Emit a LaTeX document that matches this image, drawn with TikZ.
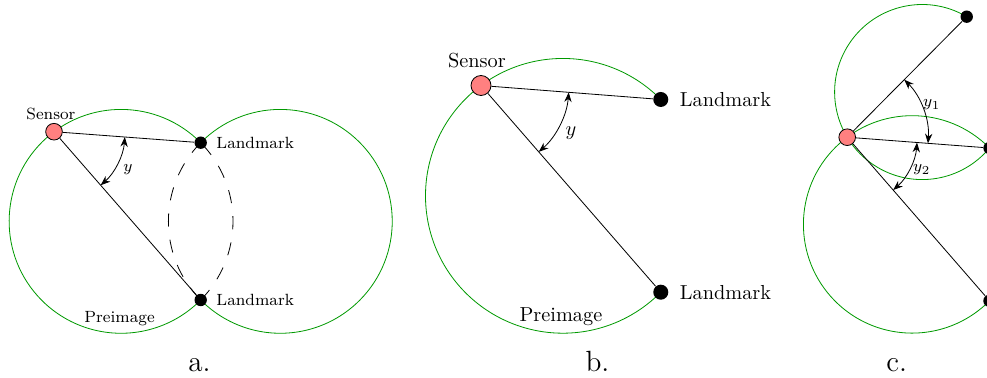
\documentclass[tikz,border=0pt]{standalone}
\usepackage{amsmath,amssymb}
\usepackage{tikz}
\usetikzlibrary{arrows.meta,positioning,backgrounds}

\begin{document}
\begin{tikzpicture}[>=Stealth,
  sensor/.style={circle, draw, fill=red!50, inner sep=0pt, minimum size=#1},
  sensor/.default=9.85pt,
  landmark/.style={circle, fill=black, inner sep=0pt, minimum size=#1},
  landmark/.default=7.4pt,
  preimage/.style={green!60!black},
  hidden/.style={dash pattern=on 6.5pt off 6.5pt},
  panel/.style={anchor=base, font=\Large}]
  \clip (0,0) rectangle (17.085,6.543);

  % a.
  \begin{scope}[font=\footnotesize]
    \node[sensor=8.2pt] (aS) at (0.935,4.263) {};
    \node[landmark=6.1pt] (aL1) at (3.474,4.073) {};
    \node[landmark=6.1pt] (aL2) at (3.474,1.350) {};
    \begin{scope}[on background layer]
      \draw[preimage] (aL1.center) arc[start angle=44.65, end angle=315.35, radius=1.9375];
      \draw[hidden] (aL2.center) arc[start angle=-44.65, end angle=44.65, radius=1.9375];
      \draw[preimage] (aL1.center) arc[start angle=135.35, end angle=-135.35, radius=1.9375];
      \draw[hidden] (aL1.center) arc[start angle=135.35, end angle=224.65, radius=1.9375];
    \end{scope}
    \draw (aS) -- (aL1);
    \draw (aS) -- (aL2);
    \draw[<->] (aS.center) ++(-4.28:1.229) arc[start angle=-4.28, end angle=-48.93, radius=1.229];
    \node (aY) at (2.216,3.600) {$y$};
    \node[above=-2pt of aS, xshift=-1.5pt] (aSensor) {Sensor};
    \node[right=1pt of aL1] (aLand1) {Landmark};
    \node[right=1pt of aL2] (aLand2) {Landmark};
    \node[above] (aPre) at (2.07,0.774) {Preimage};
  \end{scope}
  \node[panel] (aLabel) at (3.453,0.113) {a.};

  % b.
  \node[sensor] (bS) at (8.326,5.063) {};
  \node[landmark] (bL1) at (11.438,4.821) {};
  \node[landmark] (bL2) at (11.438,1.485) {};
  \begin{scope}[on background layer]
    \draw[preimage] (bL1.center) arc[start angle=44.54, end angle=315.46, radius=2.378];
  \end{scope}
  \draw (bS) -- (bL1);
  \draw (bS) -- (bL2);
  \draw[<->] (bS.center) ++(-4.45:1.523) arc[start angle=-4.45, end angle=-48.98, radius=1.523];
  \node (bY) at (9.884,4.241) {$y$};
  \node[above=0pt of bS, xshift=-2pt] (bSensor) {Sensor};
  \node[right=2pt of bL1] (bLand1) {Landmark};
  \node[right=2pt of bL2] (bLand2) {Landmark};
  \node[above] (bPre) at (9.71,0.775) {Preimage};
  \node[panel] (bLabel) at (10.343,0.113) {b.};

  % c.
  \begin{scope}[font=\footnotesize]
    \node[sensor=8.2pt] (cS) at (14.665,4.168) {};
    \node[landmark=6.1pt] (cL1) at (16.734,6.254) {};
    \node[landmark=6.1pt] (cL2) at (17.128,3.981) {};
    \node[landmark=6.1pt] (cL3) at (17.128,1.336) {};
    \begin{scope}[on background layer]
      \draw[preimage] (cL1.center) arc[start angle=59.4, end angle=320.24, radius=1.5154];
      \draw[preimage] (cL2.center) arc[start angle=44.64, end angle=315.36, radius=1.882];
    \end{scope}
    \draw (cS) -- (cL1);
    \draw (cS) -- (cL2);
    \draw (cS) -- (cL3);
    \draw[<->] (cS.center) ++(45.23:1.402) arc[start angle=45.23, end angle=-4.34, radius=1.402];
    \draw[<->] (cS.center) ++(-4.34:1.212) arc[start angle=-4.34, end angle=-48.98, radius=1.212];
    \node (cY1) at (16.128,4.726) {$y_1$};
    \node (cY2) at (15.955,3.600) {$y_2$};
  \end{scope}
  \node[panel] (cLabel) at (15.522,0.113) {c.};
\end{tikzpicture}
\end{document}
